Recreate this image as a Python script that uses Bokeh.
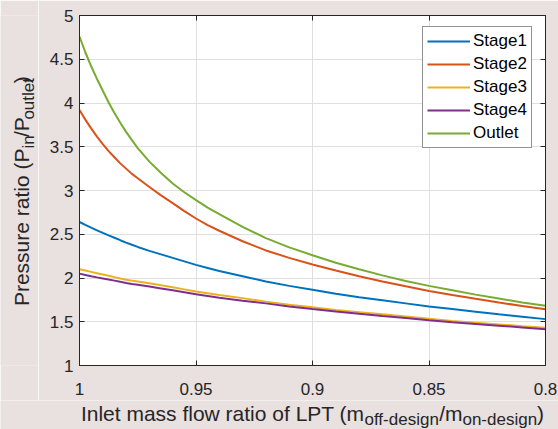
import math
from bokeh.plotting import figure
from bokeh.layouts import column, row
from bokeh.models import Range1d, LinearAxis, FixedTicker, Legend, LegendItem, Label
from bokeh.embed import file_html
from bokeh.resources import INLINE

# ---------------- data ----------------
flow_ratio = [1.0, 0.9975, 0.995, 0.9925, 0.99, 0.9875, 0.985, 0.9825, 0.98, 0.9775, 0.975,
              0.97, 0.965, 0.96, 0.955, 0.95, 0.945, 0.94,
              0.93, 0.92, 0.91, 0.90, 0.89, 0.88, 0.87, 0.86, 0.85, 0.84, 0.83, 0.82, 0.81, 0.80]
stage1 = [2.64, 2.607, 2.575, 2.545, 2.515, 2.487, 2.46, 2.432, 2.405, 2.38, 2.355,
          2.31, 2.27, 2.23, 2.19, 2.15, 2.115, 2.08,
          2.02, 1.96, 1.91, 1.865, 1.82, 1.78, 1.745, 1.71, 1.675, 1.645, 1.615, 1.585, 1.557, 1.53]
stage2 = [3.92, 3.81, 3.71, 3.615, 3.53, 3.45, 3.38, 3.31, 3.25, 3.19, 3.14,
          3.04, 2.945, 2.855, 2.765, 2.68, 2.605, 2.54,
          2.42, 2.315, 2.23, 2.155, 2.085, 2.02, 1.96, 1.905, 1.852, 1.805, 1.762, 1.72, 1.68, 1.644]
stage3 = [2.10, 2.085, 2.07, 2.055, 2.04, 2.025, 2.01, 1.995, 1.98, 1.97, 1.96,
          1.94, 1.918, 1.895, 1.87, 1.845, 1.825, 1.805,
          1.77, 1.73, 1.695, 1.665, 1.635, 1.61, 1.585, 1.56, 1.535, 1.51, 1.49, 1.47, 1.45, 1.431]
stage4 = [2.05, 2.035, 2.02, 2.007, 1.995, 1.982, 1.97, 1.956, 1.943, 1.932, 1.922,
          1.902, 1.881, 1.86, 1.838, 1.815, 1.795, 1.775,
          1.74, 1.71, 1.675, 1.645, 1.618, 1.592, 1.567, 1.543, 1.518, 1.495, 1.475, 1.455, 1.435, 1.415]
outlet = [4.76, 4.58, 4.42, 4.275, 4.14, 4.005, 3.885, 3.775, 3.67, 3.575, 3.485,
          3.33, 3.20, 3.08, 2.98, 2.89, 2.805, 2.73,
          2.585, 2.455, 2.35, 2.26, 2.175, 2.10, 2.03, 1.965, 1.91, 1.86, 1.81, 1.765, 1.72, 1.682]

series_names = ["Stage1", "Stage2", "Stage3", "Stage4", "Outlet"]
series_values = [stage1, stage2, stage3, stage4, outlet]
series_colors = ["#0072BD", "#D95319", "#EDB120", "#7E2F8E", "#77AC30"]

x_ticks = [1.0, 0.95, 0.9, 0.85, 0.8]
x_tick_labels = ["1", "0.95", "0.9", "0.85", "0.8"]
y_ticks = [1.0, 1.5, 2.0, 2.5, 3.0, 3.5, 4.0, 4.5, 5.0]
y_tick_labels = ["1", "1.5", "2", "2.5", "3", "3.5", "4", "4.5", "5"]

x_label_parts = [("Inlet mass flow ratio of LPT (m", False), ("off-design", True),
                 ("/m", False), ("on-design", True), (")", False)]
y_label_parts = [("Pressure ratio (P", False), ("in", True), ("/P", False),
                 ("outlet", True), (")", False)]

# ---------------- layout (page pixels) ----------------
PAGE_W, PAGE_H = 558, 429
YLAB_W = 38          # strip on the left holding the y label
MAIN_H = 400         # main figure height; x label strip below it
FL, FR, FT, FB = 79, 545, 15, 365   # frame edges in page px
BG = "#e9e0e0"
INK = "#262626"
FONT = "Liberation Sans"
TICK_FS = "17px"
MAIN_FS, SUB_FS = 21, 17
MID = 0.36           # label anchor sits this many font-sizes above the baseline

main_w = PAGE_W - YLAB_W
p = figure(width=main_w, height=MAIN_H, output_backend="svg", toolbar_location=None,
           x_range=Range1d(1.0, 0.8), y_range=Range1d(1.0, 5.0),
           min_border_left=FL - YLAB_W, min_border_right=PAGE_W - FR,
           min_border_top=FT, min_border_bottom=MAIN_H - FB)
p.background_fill_color = "white"
p.border_fill_color = BG
p.outline_line_color = INK
p.outline_line_width = 1

x_over = {t: l for t, l in zip(x_ticks, x_tick_labels)}
y_over = {t: l for t, l in zip(y_ticks, y_tick_labels)}

bottom_axis = p.below[0]
left_axis = p.left[0]
bottom_axis.ticker = FixedTicker(ticks=x_ticks)
bottom_axis.major_label_overrides = x_over
left_axis.ticker = FixedTicker(ticks=y_ticks)
left_axis.major_label_overrides = y_over

top_axis = LinearAxis(ticker=FixedTicker(ticks=x_ticks))
right_axis = LinearAxis(ticker=FixedTicker(ticks=y_ticks))
p.add_layout(top_axis, "above")
p.add_layout(right_axis, "right")

for ax in [bottom_axis, left_axis, top_axis, right_axis]:
    ax.axis_line_color = INK
    ax.axis_line_width = 1
    ax.major_tick_line_color = INK
    ax.major_tick_in = 5
    ax.major_tick_out = 0
    ax.minor_tick_line_color = None
    ax.major_label_text_font = FONT
    ax.major_label_text_font_size = TICK_FS
    ax.major_label_text_color = INK
for ax in [top_axis, right_axis]:
    ax.major_label_text_color = None
    ax.major_label_text_alpha = 0
    ax.major_label_text_font_size = "0px"
    ax.major_label_standoff = 0
bottom_axis.major_label_standoff = 17
left_axis.major_label_standoff = 6

p.xgrid.ticker = FixedTicker(ticks=x_ticks)
p.ygrid.ticker = FixedTicker(ticks=y_ticks)
p.grid.grid_line_color = "#dfdfdf"
p.grid.grid_line_width = 1

items = []
for name, vals, col in zip(series_names, series_values, series_colors):
    r = p.line(flow_ratio, vals, line_color=col, line_width=2)
    items.append(LegendItem(label=name, renderers=[r]))

legend = Legend(items=items, location=(343, 217), margin=0, padding=4, spacing=3,
                glyph_width=43, glyph_height=20, label_height=20, label_width=54,
                label_standoff=3, label_text_font=FONT, label_text_font_size="17px",
                label_text_color="black", border_line_color=INK, border_line_width=1,
                background_fill_color="white", background_fill_alpha=1)
p.add_layout(legend)


# ---------------- label strips (axis titles with subscripts) ----------------
def strip(w, h):
    f = figure(width=w, height=h, output_backend="svg", toolbar_location=None,
               x_range=Range1d(0, w), y_range=Range1d(0, h),
               x_axis_location=None, y_axis_location=None,
               min_border=0, min_border_left=0, min_border_right=0,
               min_border_top=0, min_border_bottom=0)
    f.background_fill_color = BG
    f.border_fill_color = BG
    f.outline_line_color = None
    f.grid.visible = False
    return f


ARIAL = {'P': 667, 'r': 333, 'e': 556, 's': 500, 'u': 556, ' ': 278, 'a': 556, 't': 278,
         'i': 222, 'o': 556, '(': 333, ')': 333, '/': 278, 'n': 556, 'l': 222, 'I': 278,
         'm': 833, 'f': 278, 'w': 722, 'L': 556, 'T': 611, '-': 333, 'd': 556, 'g': 556}


def tw(s, fs):
    return sum(ARIAL.get(c, 556) for c in s) * fs / 1000.0


def part_fs(sub):
    return SUB_FS if sub else MAIN_FS


# y label strip (page x 0..YLAB_W, page y 0..MAIN_H); data y = MAIN_H - page y
# first part is anchored by its END, so the junction with the subscript is exact
ylab = strip(YLAB_W, MAIN_H)
total = sum(tw(s, part_fs(sub)) for s, sub in y_label_parts)
start = (MAIN_H - (FT + FB) / 2.0) - total / 2.0
junction = start + tw(y_label_parts[0][0], MAIN_FS)
pos = junction
for i, (s, sub) in enumerate(y_label_parts):
    fs = part_fs(sub)
    base_x = 34.0 if sub else 28.3
    if i == 0:
        ylab.add_layout(Label(x=base_x - MID * fs, y=junction, text=s, text_font=FONT,
                              text_font_size=f"{fs}px", text_color=INK, angle=math.pi / 2,
                              text_align="right", text_baseline="alphabetic"))
        continue
    ylab.add_layout(Label(x=base_x - MID * fs, y=pos, text=s, text_font=FONT,
                          text_font_size=f"{fs}px", text_color=INK, angle=math.pi / 2,
                          text_align="left", text_baseline="alphabetic"))
    pos += tw(s, fs)

# x label strip (page y MAIN_H..PAGE_H); data y = PAGE_H - page y
XL_H = PAGE_H - MAIN_H
xlab = strip(PAGE_W, XL_H)
total = sum(tw(s, part_fs(sub)) for s, sub in x_label_parts)
start = (FL + FR) / 2.0 - total / 2.0
junction = start + tw(x_label_parts[0][0], MAIN_FS)
pos = junction
for i, (s, sub) in enumerate(x_label_parts):
    fs = part_fs(sub)
    base_page_y = 425.0 if sub else 420.5
    y = PAGE_H - (base_page_y - MID * fs)
    if i == 0:
        xlab.add_layout(Label(x=junction, y=y, text=s, text_font=FONT,
                              text_font_size=f"{fs}px", text_color=INK,
                              text_align="right", text_baseline="alphabetic"))
        continue
    xlab.add_layout(Label(x=pos, y=y, text=s, text_font=FONT,
                          text_font_size=f"{fs}px", text_color=INK,
                          text_align="left", text_baseline="alphabetic"))
    pos += tw(s, fs)

layout = column(row(ylab, p, spacing=0), xlab, spacing=0)

open("out.html", "w").write(file_html(layout, INLINE))
